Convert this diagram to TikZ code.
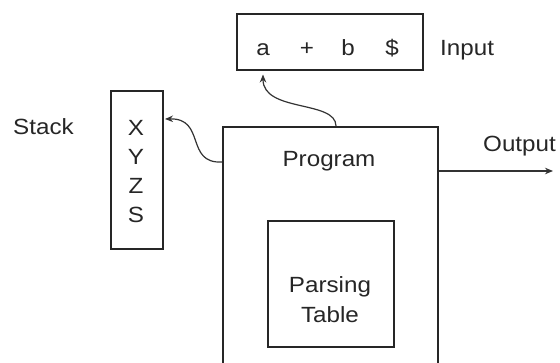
\documentclass[tikz,border=0pt]{standalone}
\usepackage{fontspec}
\setmainfont[FakeStretch=1.1]{Liberation Sans}
\usetikzlibrary{positioning, arrows.meta, calc}

\begin{document}
\begin{tikzpicture}[x=1pt, y=-1pt,
			every node/.style={font=\fontsize{22}{26}\selectfont, text=black!85},
			box/.style={rectangle, draw=black!85, line width=1.5pt, inner sep=0pt, anchor=north west},
			sym/.style={anchor=base, inner sep=0pt},
			flow/.style={-{Stealth[length=8pt, width=6.5pt]}, line width=1.2pt, draw=black!80}
			]
			\useasboundingbox (0,0) rectangle (560,362);
			
			% input tape
			\node[box, minimum width=186pt, minimum height=56pt] (inbox) at (236,13) {};
			\foreach \s/\x [count=\i] in {a/263, +/307, b/348, \$/392}
				\node[sym] (in\i) at (\x,55) {\s};
			\node[sym, anchor=base west] (inlabel) at (440,55) {Input};
			
			% stack
			\node[box, minimum width=52pt, minimum height=158pt] (stackbox) at (110,90) {};
			\foreach \s [count=\i from 0] in {X, Y, Z, S}
				\node[sym] (st\s) at (136,135+29*\i) {\s};
			\node[sym, anchor=base west] (stacklabel) at (13,134) {Stack};
			
			% driver program and its table
			\node[box, minimum width=215pt, minimum height=245pt] (prog) at (222,126) {};
			\node[sym] (proglabel) at (329,166) {Program};
			\node[box, minimum width=126pt, minimum height=126pt] (table) at (267,220) {};
			\node[sym] (tabline1) at (330,292) {Parsing};
			\node[sym] (tabline2) at (330,322) {Table};
			
			% output
			\node[sym, anchor=base west] (outlabel) at (483,151) {Output};
			\coordinate (out) at (553,171);
			
			\draw[flow] ($(prog.north east)+(0,45)$) -- (out);
			\draw[flow] ($(prog.north west)+(114,0)$) .. controls +(0,-26) and +(0,38) .. ($(in1 |- inbox.south)+(0,4)$);
			\draw[flow] ($(prog.north west)+(0,36)$) .. controls +(-37,2) and +(41,-1) .. ($(stackbox.north east)+(1.5,29)$);
		\end{tikzpicture}
\end{document}
